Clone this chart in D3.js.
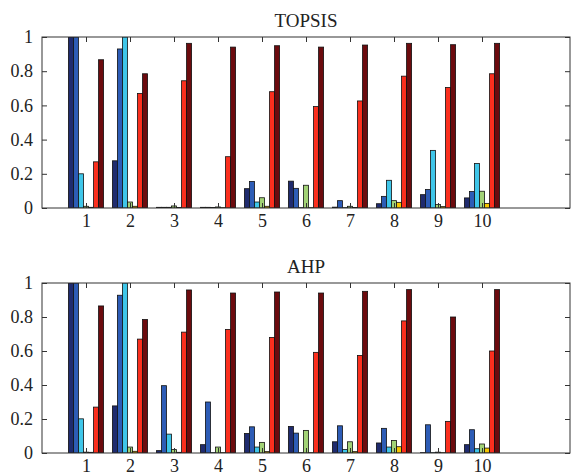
<!DOCTYPE html>
<html>
<head>
<meta charset="utf-8">
<script src="https://cdn.jsdelivr.net/npm/d3@7"></script>
<style>
body { margin: 0; background: white; }
svg text { font-family: "Liberation Serif", "DejaVu Serif", serif; fill: #222; }
</style>
</head>
<body>
<svg></svg>
<script>
var w = 572
var h = 476

var categories = ["1","2","3","4","5","6","7","8","9","10"]
var yTicks = [0, 0.2, 0.4, 0.6, 0.8, 1]
var yTickLabels = ["0","0.2","0.4","0.6","0.8","1"]
var seriesColors = ["#1f2b6e","#2d5cb6","#3fc6e9","#a2d276","#f5c600","#fb2f1e","#6c0b0e"]

// TOPSIS, one array per series (7 series x 10 alternatives)
var topsisNavy   = [1, 0.276, 0.004, 0.004, 0.113, 0.157, 0.005, 0.025, 0.078, 0.059]
var topsisBlue   = [1, 0.93, 0.004, 0.004, 0.155, 0.115, 0.043, 0.068, 0.108, 0.096]
var topsisCyan   = [0.2, 1, 0.004, 0.003, 0.035, 0.002, 0.002, 0.162, 0.337, 0.26]
var topsisGreen  = [0.01, 0.035, 0.012, 0.006, 0.06, 0.133, 0.01, 0.043, 0.02, 0.098]
var topsisYellow = [0.004, 0.01, 0.003, 0.002, 0.01, 0.002, 0.003, 0.033, 0.008, 0.027]
var topsisRed    = [0.27, 0.67, 0.744, 0.30, 0.68, 0.593, 0.626, 0.771, 0.705, 0.785]
var topsisDark   = [0.867, 0.785, 0.963, 0.941, 0.949, 0.941, 0.953, 0.963, 0.955, 0.963]

// AHP
var ahpNavy   = [1, 0.277, 0.014, 0.049, 0.115, 0.156, 0.066, 0.059, 0.002, 0.049]
var ahpBlue   = [1, 0.928, 0.396, 0.30, 0.154, 0.117, 0.16, 0.145, 0.166, 0.137]
var ahpCyan   = [0.201, 1, 0.111, 0.002, 0.035, 0.002, 0.02, 0.035, 0.002, 0.025]
var ahpGreen  = [0.005, 0.035, 0.02, 0.035, 0.0625, 0.133, 0.066, 0.074, 0.005, 0.053]
var ahpYellow = [0.004, 0.01, 0.004, 0.002, 0.008, 0.002, 0.008, 0.037, 0.002, 0.029]
var ahpRed    = [0.27, 0.67, 0.711, 0.727, 0.68, 0.592, 0.574, 0.777, 0.186, 0.60]
var ahpDark   = [0.865, 0.785, 0.959, 0.941, 0.947, 0.941, 0.951, 0.961, 0.80, 0.961]

var panels = [
	{title: "TOPSIS", top: 37, bottom: 208, series: [topsisNavy, topsisBlue, topsisCyan, topsisGreen, topsisYellow, topsisRed, topsisDark]},
	{title: "AHP", top: 283, bottom: 453, series: [ahpNavy, ahpBlue, ahpCyan, ahpGreen, ahpYellow, ahpRed, ahpDark]}
]

var left = 42
var right = 570
var fontSize = 18
var serif = "'Liberation Serif', 'DejaVu Serif', serif"

var svg = d3.select("svg")
	.attr("width", w)
	.attr("height", h)
	.style("background-color", "white")

var x = d3.scaleLinear()
	.domain([0, 12])
	.range([left, right])

// offsets of the 7 bars inside a group, in x units (group width 0.8)
var xSub = d3.scaleBand()
	.domain(d3.range(7))
	.range([-0.4, 0.4])
	.paddingInner(0)

function styleAxis(sel){
	sel.attr("font-family", serif).attr("font-size", fontSize)
	sel.select(".domain").remove()
	sel.selectAll("line").attr("stroke", "#333")
	sel.selectAll("text")
		.attr("fill", "#222")
		.style("font-family", serif)
		.style("font-size", fontSize + "px")
}

panels.forEach(function(p, pi){

	var y = d3.scaleLinear()
		.domain([0, 1])
		.range([p.bottom, p.top])

	var g = svg.append("g")

	g.append("clipPath")
		.attr("id", "clip" + pi)
		.append("rect")
		.attr("x", left)
		.attr("y", p.top)
		.attr("width", right - left)
		.attr("height", p.bottom - p.top)

	var bars = g.append("g")
		.attr("clip-path", "url(#clip" + pi + ")")

	p.series.forEach(function(vals, si){
		bars.selectAll(".b" + si)
			.data(vals)
			.enter()
			.append("rect")
			.attr("class", "b" + si)
			.attr("x", function(d, i){ return x(i + 1 + xSub(si)) })
			.attr("width", x(xSub.bandwidth()) - x(0))
			.attr("y", function(d){ return y(d) })
			.attr("height", function(d){ return p.bottom - y(d) })
			.attr("fill", seriesColors[si])
			.attr("stroke", "#111")
			.attr("stroke-width", 0.8)
	})

	// box
	g.append("rect")
		.attr("x", left)
		.attr("y", p.top)
		.attr("width", right - left)
		.attr("height", p.bottom - p.top)
		.attr("fill", "none")
		.attr("stroke", "#333")
		.attr("stroke-width", 1)

	var xTickVals = categories.map(function(c, i){ return i + 1 })

	// x axis bottom (inward ticks) and top ticks
	var xAxisB = d3.axisBottom(x)
		.tickValues(xTickVals)
		.tickFormat(function(d, i){ return categories[i] })
		.tickSizeInner(-5)
		.tickSizeOuter(0)
		.tickPadding(6)

	g.append("g")
		.attr("transform", "translate(0," + p.bottom + ")")
		.call(xAxisB)
		.call(styleAxis)

	var xAxisT = d3.axisTop(x)
		.tickValues(xTickVals)
		.tickFormat("")
		.tickSizeInner(-5)
		.tickSizeOuter(0)
	g.append("g")
		.attr("transform", "translate(0," + p.top + ")")
		.call(xAxisT)
		.call(styleAxis)

	// y axis left and right ticks
	var yAxisL = d3.axisLeft(y)
		.tickValues(yTicks)
		.tickFormat(function(d, i){ return yTickLabels[i] })
		.tickSizeInner(-5)
		.tickSizeOuter(0)
		.tickPadding(9)
	g.append("g")
		.attr("transform", "translate(" + left + ",0)")
		.call(yAxisL)
		.call(styleAxis)

	var yAxisR = d3.axisRight(y)
		.tickValues(yTicks)
		.tickFormat("")
		.tickSizeInner(-5)
		.tickSizeOuter(0)
	g.append("g")
		.attr("transform", "translate(" + right + ",0)")
		.call(yAxisR)
		.call(styleAxis)

	g.append("text")
		.attr("x", (left + right) / 2)
		.attr("y", p.top - 10)
		.attr("text-anchor", "middle")
		.style("font-family", serif)
		.style("font-size", (fontSize + 1) + "px")
		.text(p.title)
})
</script>
</body>
</html>
